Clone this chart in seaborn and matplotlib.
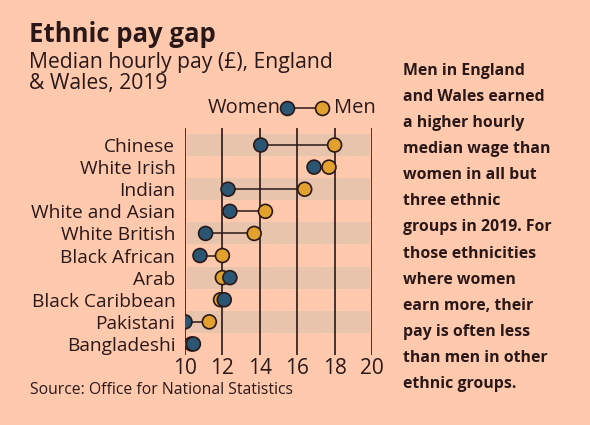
import matplotlib
matplotlib.use("Agg")
import matplotlib.pyplot as plt
from matplotlib.lines import Line2D
import seaborn as sns
import pandas as pd

groups = ["Chinese", "White Irish", "Indian", "White and Asian", "White British",
          "Black African", "Arab", "Black Caribbean", "Pakistani", "Bangladeshi"]
women = [14.05, 16.9, 12.3, 12.4, 11.1, 10.8, 12.4, 12.1, 10.0, 10.45]
men = [18.0, 17.7, 16.4, 14.3, 13.7, 12.0, 12.0, 11.9, 11.3, 10.35]
xticks = [10, 12, 14, 16, 18, 20]

bg = "#FFC9AE"
band = "#E7C4AB"
ink = "#2A1818"
blue = "#2A5674"
orange = "#E2A12C"

df = pd.DataFrame({"group": groups, "Women": women, "Men": men})
df["pos"] = range(len(groups))
long = df.melt(id_vars=["group", "pos"], value_vars=["Men", "Women"],
               var_name="sex", value_name="pay")

sns.set_theme(style="white")
plt.rcParams["font.family"] = ["Open Sans", "DejaVu Sans"]

fig = plt.figure(figsize=(5.9, 4.25), dpi=100, facecolor=bg)
ax = fig.add_axes([185 / 590, 1 - 355 / 425, (372 - 185) / 590, (355 - 128) / 425])
ax.set_facecolor(bg)

for i in range(0, len(groups), 2):
    ax.axhspan(i - 0.5, i + 0.5, xmin=0.012, xmax=0.988, color=band, lw=0, zorder=0)
for t in xticks:
    ax.axvline(t, color=ink, lw=1.2, zorder=1)

ax.hlines(df["pos"], df["Women"], df["Men"], color=ink, lw=1.1, zorder=2)
sns.scatterplot(data=long, x="pay", y="pos", hue="sex",
                palette={"Men": orange, "Women": blue}, s=100,
                edgecolor=ink, linewidth=1.2, legend=False, zorder=3, ax=ax)

ax.set_xlim(10, 20)
ax.set_ylim(9.5, -0.77)
ax.set_xticks(xticks)
ax.set_xticklabels([str(t) for t in xticks], fontsize=15, color=ink)
ax.set_yticks(df["pos"])
ax.set_yticklabels(groups, fontsize=13.8, color=ink)
ax.tick_params(axis="both", length=0)
ax.tick_params(axis="y", pad=7)
ax.tick_params(axis="x", pad=2)
ax.set_xlabel("")
ax.set_ylabel("")
sns.despine(ax=ax, left=True, bottom=True)

# legend drawn above the plot
ly = 1 - 108 / 425
fig.text(281 / 590, ly, "Women", ha="right", va="center", fontsize=14.5, color=ink)
fig.text(334 / 590, ly, "Men", ha="left", va="center", fontsize=14.5, color=ink)
fig.add_artist(Line2D([287 / 590, 322 / 590], [ly] * 2, color=ink, lw=1.1))
fig.add_artist(Line2D([287 / 590], [ly], marker="o", ms=10, mfc=blue,
                      mec=ink, mew=1.2, lw=0))
fig.add_artist(Line2D([322 / 590], [ly], marker="o", ms=10, mfc=orange,
                      mec=ink, mew=1.2, lw=0))

fig.text(29 / 590, 1 - 34 / 425, "Ethnic pay gap", fontsize=18.5, fontweight="bold",
         color=ink, va="center")
fig.text(29 / 590, 1 - 73 / 425, "Median hourly pay (£), England\n& Wales, 2019",
         fontsize=15.2, color=ink, va="center", linespacing=0.98)
fig.text(30 / 590, 1 - 390 / 425, "Source: Office for National Statistics",
         fontsize=11.3, color=ink, va="center")

note = ("Men in England\nand Wales earned\na higher hourly\nmedian wage than\n"
        "women in all but\nthree ethnic\ngroups in 2019. For\nthose ethnicities\n"
        "where women\nearn more, their\npay is often less\nthan men in other\nethnic groups.")
fig.text(403 / 590, 1 - 63 / 425, note, fontsize=11.4, fontweight="bold", color=ink,
         va="top", ha="left", linespacing=1.84)

fig.savefig("out.png", dpi=100, facecolor=bg)
